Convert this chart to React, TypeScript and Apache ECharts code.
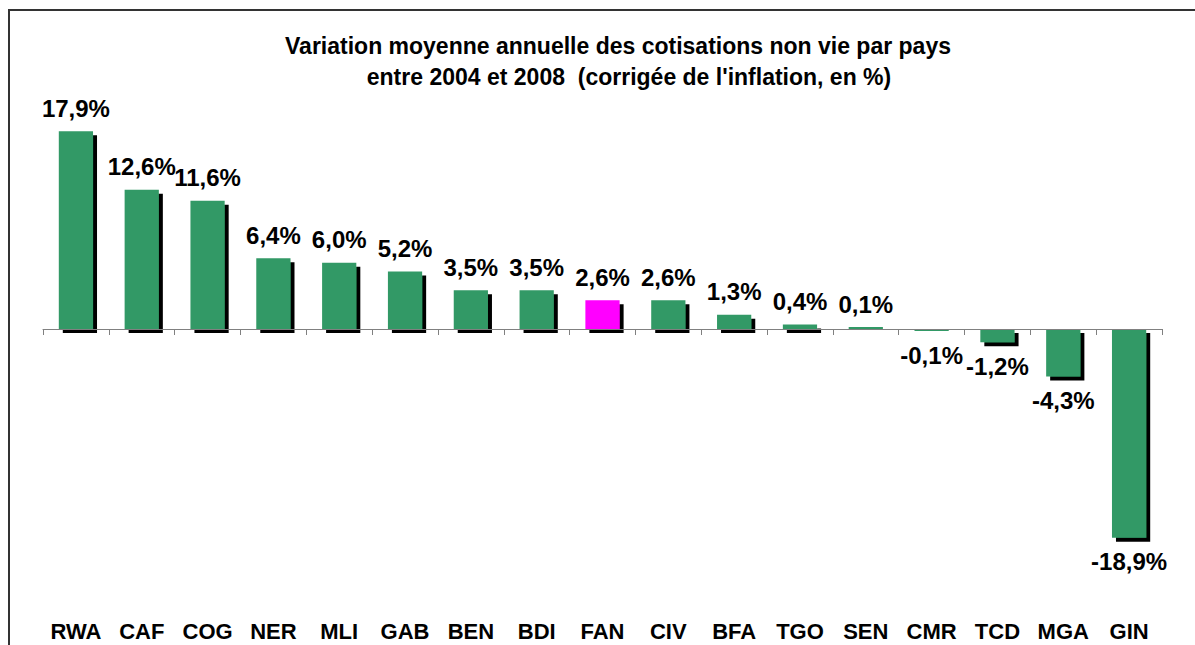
import React, { useEffect, useRef } from "react";
import * as echarts from "echarts";

const categories = ["RWA", "CAF", "COG", "NER", "MLI", "GAB", "BEN", "BDI", "FAN", "CIV", "BFA", "TGO", "SEN", "CMR", "TCD", "MGA", "GIN"];
const values = [17.9, 12.6, 11.6, 6.4, 6.0, 5.2, 3.5, 3.5, 2.6, 2.6, 1.3, 0.4, 0.1, -0.1, -1.2, -4.3, -18.9];
const highlight = "FAN";
const titleLines = [
  "Variation moyenne annuelle des cotisations non vie par pays",
  "entre 2004 et 2008  (corrigée de l'inflation, en %)",
];

const FONT = "Arial, 'Liberation Sans', sans-serif";

export default function App() {
  const ref = useRef<HTMLDivElement>(null);
  useEffect(() => {
    if (!ref.current) return;
    const chart = echarts.init(ref.current, null, { renderer: "svg" });
    const fmt = (v: number) => v.toFixed(1).replace(".", ",") + "%";
    const titleStyle = { fontFamily: FONT, fontWeight: "bold", fontSize: 23, color: "#000" };
    chart.setOption({
      animation: false,
      backgroundColor: "#ffffff",
      title: [
        { text: titleLines[0], left: 613, top: 29, textAlign: "center", textStyle: titleStyle },
        { text: titleLines[1], left: 624, top: 60, textAlign: "center", textStyle: titleStyle },
      ],
      graphic: [
        {
          type: "rect",
          shape: { x: 9, y: 10, width: 1300, height: 800 },
          style: { fill: "none", stroke: "#333", lineWidth: 2 },
          silent: true,
        },
      ],
      grid: { left: 43, right: 33, top: 108, height: 442, outerBoundsMode: "none", containLabel: false },
      xAxis: [
        {
          type: "category",
          data: categories,
          boundaryGap: true,
          axisLine: { onZero: true, lineStyle: { color: "#808080", width: 1 } },
          axisTick: { show: true, alignWithLabel: false, length: 6, lineStyle: { color: "#808080" } },
          axisLabel: { show: false },
          z: 5,
        },
        {
          type: "category",
          data: categories,
          position: "bottom",
          boundaryGap: true,
          axisLine: { show: false, onZero: false },
          axisTick: { show: false },
          axisLabel: {
            margin: 70,
            fontFamily: FONT,
            fontWeight: "bold",
            fontSize: 22,
            color: "#000",
            interval: 0,
          },
        },
      ],
      yAxis: {
        type: "value",
        min: -20,
        max: 20,
        show: false,
        splitLine: { show: false },
      },
      series: [
        {
          type: "bar",
          xAxisIndex: 0,
          barWidth: "52%",
          barMinHeight: 2,
          data: values.map((v, i) => ({
            value: v,
            itemStyle: { color: categories[i] === highlight ? "#FF00FF" : "#339966" },
            label: {
              position: v >= 0 ? "top" : "bottom",
              distance: v >= 0 ? 11 : 12,
            },
          })),
          itemStyle: {
            shadowColor: "#000",
            shadowBlur: 0,
            shadowOffsetX: 4,
            shadowOffsetY: 4,
          },
          label: {
            show: true,
            formatter: (p: any) => fmt(p.value),
            fontFamily: FONT,
            fontWeight: "bold",
            fontSize: 24,
            color: "#000",
          },
        },
      ],
    });
    return () => chart.dispose();
  }, []);
  return (
    <div
      ref={ref}
      style={{ position: "absolute", left: 0, top: 0, width: 1195, height: 645 }}
    />
  );
}
